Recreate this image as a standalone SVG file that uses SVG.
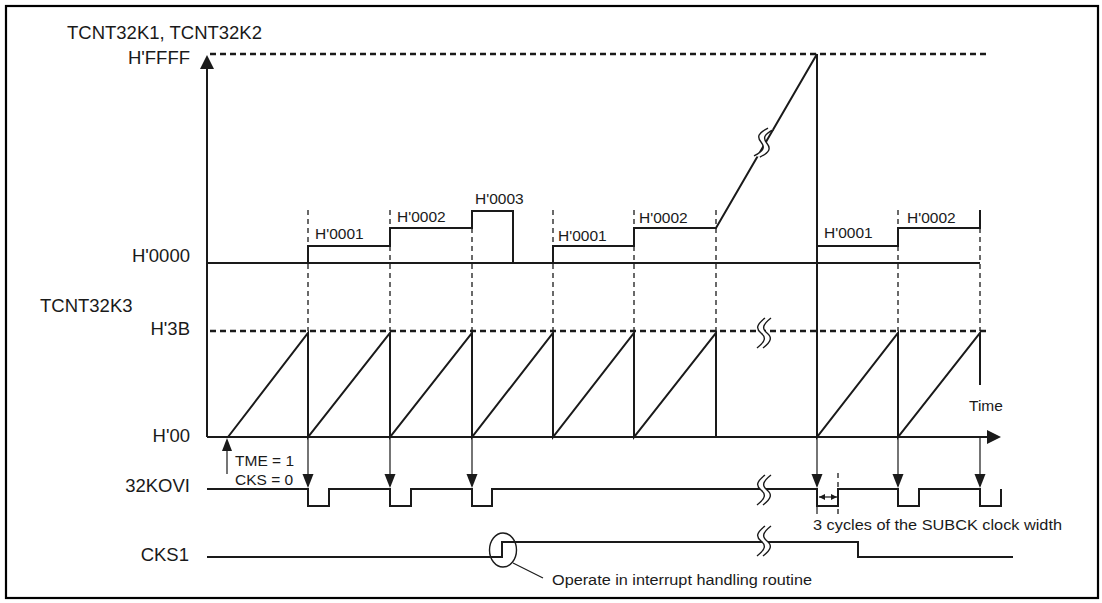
<svg xmlns="http://www.w3.org/2000/svg" width="1102" height="603" viewBox="0 0 1102 603">
<style>
.sig{fill:none;stroke:#1a1a1a;stroke-width:2;stroke-linejoin:miter}
.thin{fill:none;stroke:#1a1a1a;stroke-width:1.2}
.hd{fill:none;stroke:#1a1a1a;stroke-width:2.5;stroke-dasharray:6 4}
.vd{fill:none;stroke:#1a1a1a;stroke-width:1.3;stroke-dasharray:5 4}
.lbl{font-family:"Liberation Sans",Arial,sans-serif;font-size:18.5px;fill:#1a1a1a}
.sm{font-family:"Liberation Sans",Arial,sans-serif;font-size:15.5px;fill:#1a1a1a}
.ah{fill:#1a1a1a;stroke:none}
</style>
<defs>
<g id="brk">
<path d="M4,-15 C-5,-8 -5,-4 0,0 C5,4 5,8 -4,15 L2,15 C11,8 11,4 6,0 C1,-4 1,-8 10,-15 Z" fill="#fff" stroke="none"/>
<path d="M4,-15 C-5,-8 -5,-4 0,0 C5,4 5,8 -4,15" fill="none" stroke="#1a1a1a" stroke-width="1.4"/>
<path d="M10,-15 C1,-8 1,-4 6,0 C11,4 11,8 2,15" fill="none" stroke="#1a1a1a" stroke-width="1.4"/>
</g>
<path id="dn" d="M-5.5,0 L5.5,0 L0,14 Z"/>
<marker id="sa" markerWidth="6" markerHeight="6" refX="6" refY="3" orient="auto-start-reverse" markerUnits="userSpaceOnUse"><path d="M0,0 L6,3 L0,6 Z" fill="#1a1a1a"/></marker>
</defs>
<rect x="0" y="0" width="1102" height="603" fill="#fff"/>
<rect id="frame" x="6" y="6" width="1092" height="592" fill="none" stroke="#000" stroke-width="2.2"/>

<g id="labels">
<text class="lbl" x="67" y="39">TCNT32K1, TCNT32K2</text>
<text class="lbl" x="190" y="64" text-anchor="end">H'FFFF</text>
<text class="lbl" x="190" y="262" text-anchor="end">H'0000</text>
<text class="lbl" x="40" y="312">TCNT32K3</text>
<text class="lbl" x="190" y="335" text-anchor="end">H'3B</text>
<text class="lbl" x="190" y="442" text-anchor="end">H'00</text>
<text class="lbl" x="190" y="492" text-anchor="end">32KOVI</text>
<text class="lbl" x="189" y="561" text-anchor="end">CKS1</text>
</g>

<g id="grid">
<line class="hd" x1="210" y1="54" x2="988" y2="54"/>
<line class="hd" x1="210" y1="331" x2="988" y2="331"/>
<path class="vd" d="M308,210 V331 M390,210 V331 M472,210 V331 M553,210 V331 M634,210 V331 M716,210 V331 M898,210 V331 M980,210 V331 M838,473 V514"/>
</g>

<g id="axes">
<path class="sig" d="M207,437 V66"/>
<path class="ah" d="M200,69 L214,69 L207,55 Z"/>
<path class="sig" d="M207,437 H990"/>
<path class="ah" d="M987,430 L1001,437 L987,444 Z"/>
</g>

<g id="tcnt12">
<path class="sig" d="M207,263 H980"/>
<path class="sig" d="M308,263 V246 H390 V228 H472 V211 H513 V263"/>
<path class="sig" d="M553,263 V246 H634 V228 H716 L817,54"/>
<path class="sig" d="M817,263 V246 H898 V228 H980 V210"/>
<text class="sm" x="315" y="239">H'0001</text>
<text class="sm" x="397" y="222">H'0002</text>
<text class="sm" x="475" y="204">H'0003</text>
<text class="sm" x="558" y="241">H'0001</text>
<text class="sm" x="639" y="223">H'0002</text>
<text class="sm" x="824" y="238">H'0001</text>
<text class="sm" x="907" y="223">H'0002</text>
</g>

<g id="tcnt3">
<path class="sig" d="M228,437 L308,333 V437 L390,333 V437 L472,333 V437 L553,333 V437 L634,333 V437 L716,333 V437"/>
<path class="sig" d="M817,54 V437 L898,333 V437 L980,333 V385"/>
<text class="sm" x="969" y="411">Time</text>
</g>

<g id="connectors">
<path class="thin" d="M227,474 V448"/>
<path class="ah" d="M222,451 L232,451 L227,438 Z"/>
<path class="thin" d="M308,437 V476 M390,437 V476 M472,437 V476 M817,437 V476 M898,437 V476 M980,437 V476"/>
<use href="#dn" x="308" y="474" class="ah"/>
<use href="#dn" x="390" y="474" class="ah"/>
<use href="#dn" x="472" y="474" class="ah"/>
<use href="#dn" x="817" y="474" class="ah"/>
<use href="#dn" x="898" y="474" class="ah"/>
<use href="#dn" x="980" y="474" class="ah"/>
<path class="thin" d="M817,506 V514"/>
<line class="thin" x1="819" y1="497" x2="837" y2="497" marker-start="url(#sa)" marker-end="url(#sa)"/>
<ellipse cx="503" cy="550" rx="13.5" ry="17" fill="none" stroke="#1a1a1a" stroke-width="1.4"/>
<path class="thin" d="M513,563 L543,578"/>
</g>

<g id="kovi">
<path class="sig" d="M207,489 H308 V506 H329 V489 H390 V506 H411 V489 H472 V506 H492 V489 H817 V506 H838 V489 H898 V506 H919 V489 H980 V506 H1001 V489"/>
<text class="sm" x="235" y="466">TME = 1</text>
<text class="sm" x="235" y="485">CKS = 0</text>
<text class="sm" x="813" y="530" textLength="249" lengthAdjust="spacingAndGlyphs">3 cycles of the SUBCK clock width</text>
</g>

<g id="cks1">
<path class="sig" d="M207,557 H502 V542 H858 V557 H1013"/>
<text class="sm" x="552" y="585" textLength="260" lengthAdjust="spacingAndGlyphs">Operate in interrupt handling routine</text>
</g>

<g id="breaks">
<use href="#brk" transform="translate(761,333)"/>
<use href="#brk" transform="translate(761,142) rotate(12)"/>
<use href="#brk" transform="translate(761,490)"/>
<use href="#brk" transform="translate(761,541)"/>
</g>
</svg>
